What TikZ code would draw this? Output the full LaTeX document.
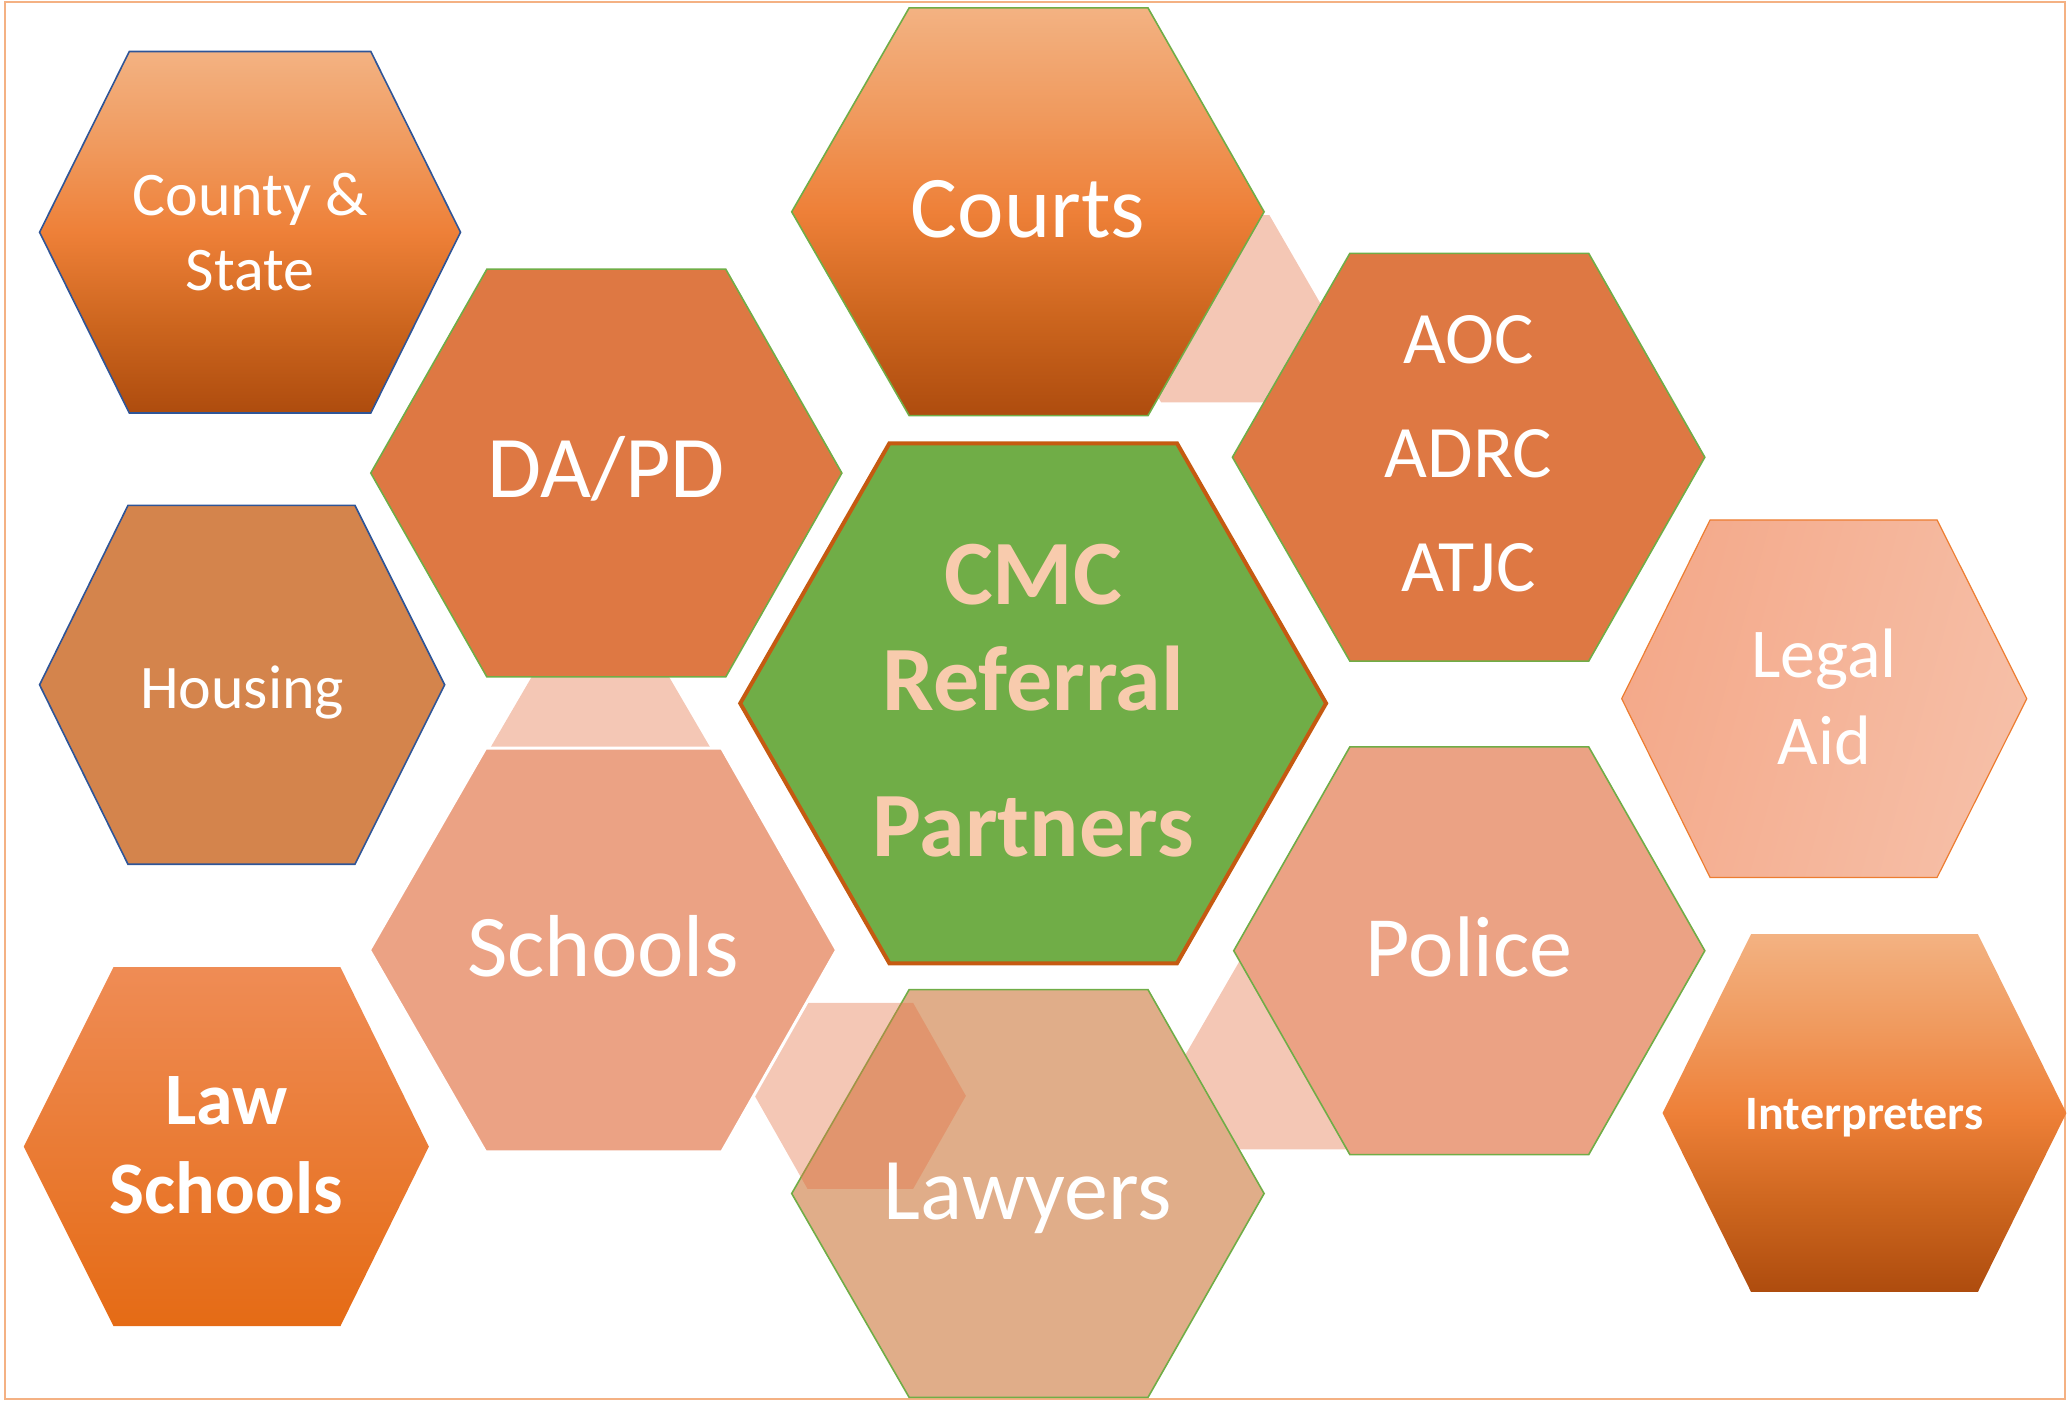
\documentclass[tikz,border=0pt]{standalone}
\usepackage{fontspec}
\setmainfont{Carlito}
\definecolor{bordercol}{HTML}{F4B183}
\definecolor{gtop}{HTML}{F3B282}
\definecolor{gup}{HTML}{F09A5E}
\definecolor{gmid}{HTML}{EE8038}
\definecolor{glow}{HTML}{CC651E}
\definecolor{gbot}{HTML}{AE4C0E}
\definecolor{lstop}{HTML}{EF8C55}
\definecolor{lsmid}{HTML}{F37E32}
\definecolor{lsbot}{HTML}{E56B15}
\definecolor{daorange}{HTML}{DE7843}
\definecolor{housingc}{HTML}{D4844C}
\definecolor{salmon}{HTML}{EBA284}
\definecolor{lawyersc}{HTML}{E0AD89}
\definecolor{legalL}{HTML}{F4A98A}
\definecolor{legalR}{HTML}{F6BFA7}
\definecolor{cmcgreen}{HTML}{70AD47}
\definecolor{cmcline}{HTML}{C55A11}
\definecolor{cmctext}{HTML}{F8CBAD}
\definecolor{blueline}{HTML}{2F5597}
\definecolor{greenline}{HTML}{70AD47}
\definecolor{orangeline}{HTML}{ED7D31}
\definecolor{paleorange}{RGB}{228,115,70}
\pgfdeclareverticalshading{hexgrad}{100bp}{color(0bp)=(gbot); color(25bp)=(gbot); color(37bp)=(glow); color(50bp)=(gmid); color(62bp)=(gup); color(75bp)=(gtop); color(100bp)=(gtop)}
\begin{document}
\begin{tikzpicture}[x=0.65976pt,y=-0.65976pt,
  hexline/.style={line width=0.8pt, line join=miter},
  pale/.style={fill=paleorange, fill opacity=0.4},
  grad/.style={shading=hexgrad},
  lbl/.style={text=white, inner sep=0pt, align=center}]
\useasboundingbox (0,0) rectangle (1568,1062);
\draw[draw=bordercol, line width=1pt] (3.5,1.8) rectangle (1565,1060);
% pale connector hexagons (behind)
\path[pale] (839,234) -- (880,163) -- (962,163) -- (1003,234) -- (962,305) -- (880,305) -- cycle;
\path[pale] (372,566) -- (414,494) -- (496,494) -- (538,566) -- (496,638) -- (414,638) -- cycle;
\path[pale] (898,800) -- (939,729) -- (1021,729) -- (1062,800) -- (1021,871) -- (939,871) -- cycle;
% Lawyers
\draw[hexline, draw=greenline, fill=lawyersc] (600,904.5) -- (689,750) -- (870,750) -- (958,904.5) -- (870,1059) -- (689,1059) -- cycle;
% pale over lawyers
\path[pale] (572,830.5) -- (612,760) -- (692,760) -- (732,830.5) -- (692,901) -- (612,901) -- cycle;
% County & State
\draw[hexline, draw=blueline, grad] (30,176) -- (98,39) -- (281,39) -- (349,176) -- (281,313) -- (98,313) -- cycle;
% Courts
\draw[hexline, draw=greenline, grad] (600,160.5) -- (689,6) -- (870,6) -- (958,160.5) -- (870,315) -- (689,315) -- cycle;
% DA/PD
\draw[hexline, draw=greenline, fill=daorange] (281,358.5) -- (369,204) -- (550,204) -- (638,358.5) -- (550,513) -- (369,513) -- cycle;
% AOC
\draw[hexline, draw=greenline, fill=daorange] (934,346.5) -- (1023,192) -- (1204,192) -- (1292,346.5) -- (1204,501) -- (1023,501) -- cycle;
% CMC
\draw[line width=2pt, line join=miter, draw=cmcline, fill=cmcgreen] (561,533) -- (674,336) -- (892,336) -- (1005,533) -- (892,730) -- (674,730) -- cycle;
% Housing
\draw[hexline, draw=blueline, fill=housingc] (30,519) -- (97,383) -- (269,383) -- (337,519) -- (269,655) -- (97,655) -- cycle;
% Legal Aid
\draw[line width=0.6pt, draw=orangeline, left color=legalL, right color=legalR, shading angle=75] (1229,529.5) -- (1296,394) -- (1468,394) -- (1536,529.5) -- (1468,665) -- (1296,665) -- cycle;
% Schools
\draw[line width=1.5pt, draw=white, fill=salmon] (280,720) -- (368,567) -- (547,567) -- (634,720) -- (547,873) -- (368,873) -- cycle;
% Police
\draw[hexline, draw=greenline, fill=salmon] (935,720.5) -- (1023,566) -- (1204,566) -- (1292,720.5) -- (1204,875) -- (1023,875) -- cycle;
% Law Schools
\path[top color=lstop, middle color=lsmid, bottom color=lsbot] (18,869) -- (86,733) -- (258,733) -- (325,869) -- (258,1005) -- (86,1005) -- cycle;
% Interpreters
\path[grad] (1260,843.5) -- (1327,708) -- (1499,708) -- (1566,843.5) -- (1499,979) -- (1327,979) -- cycle;
% labels
\node[lbl, font=\fontsize{31}{37.6}\selectfont] (county) at (189.5,176) {County \&\\State};
\node[lbl, anchor=base, font=\fontsize{44}{53}\selectfont] (courts) at (779,180) {Courts};
\node[lbl, anchor=base, font=\fontsize{44}{53}\selectfont] (dapd) at (459.5,377) {DA/PD};
\node[lbl, font=\fontsize{37}{57}\selectfont] (aoc) at (1113,344) {AOC\\ADRC\\ATJC};
\node[lbl, text=cmctext, font=\bfseries\fontsize{46}{52.8}\selectfont] (cmc) at (783,531) {CMC\\Referral\\[20.4pt]Partners};
\node[lbl, anchor=base, font=\fontsize{31}{37}\selectfont] (housing) at (183.5,537) {Housing};
\node[lbl, font=\fontsize{35}{43.5}\selectfont] (legal) at (1382.5,528) {Legal\\Aid};
\node[lbl, anchor=base, font=\fontsize{44}{53}\selectfont] (schools) at (457,740) {Schools};
\node[lbl, anchor=base, font=\fontsize{43}{52}\selectfont] (police) at (1113.5,740) {Police};
\node[lbl, font=\bfseries\fontsize{37}{44.2}\selectfont] (lawschools) at (171.5,868) {Law\\Schools};
\node[lbl, anchor=base, font=\fontsize{44}{53}\selectfont] (lawyers) at (779,924) {Lawyers};
\node[lbl, anchor=base, font=\bfseries\fontsize{24}{29}\selectfont] (interp) at (1413,856) {Interpreters};
\end{tikzpicture}
\end{document}
